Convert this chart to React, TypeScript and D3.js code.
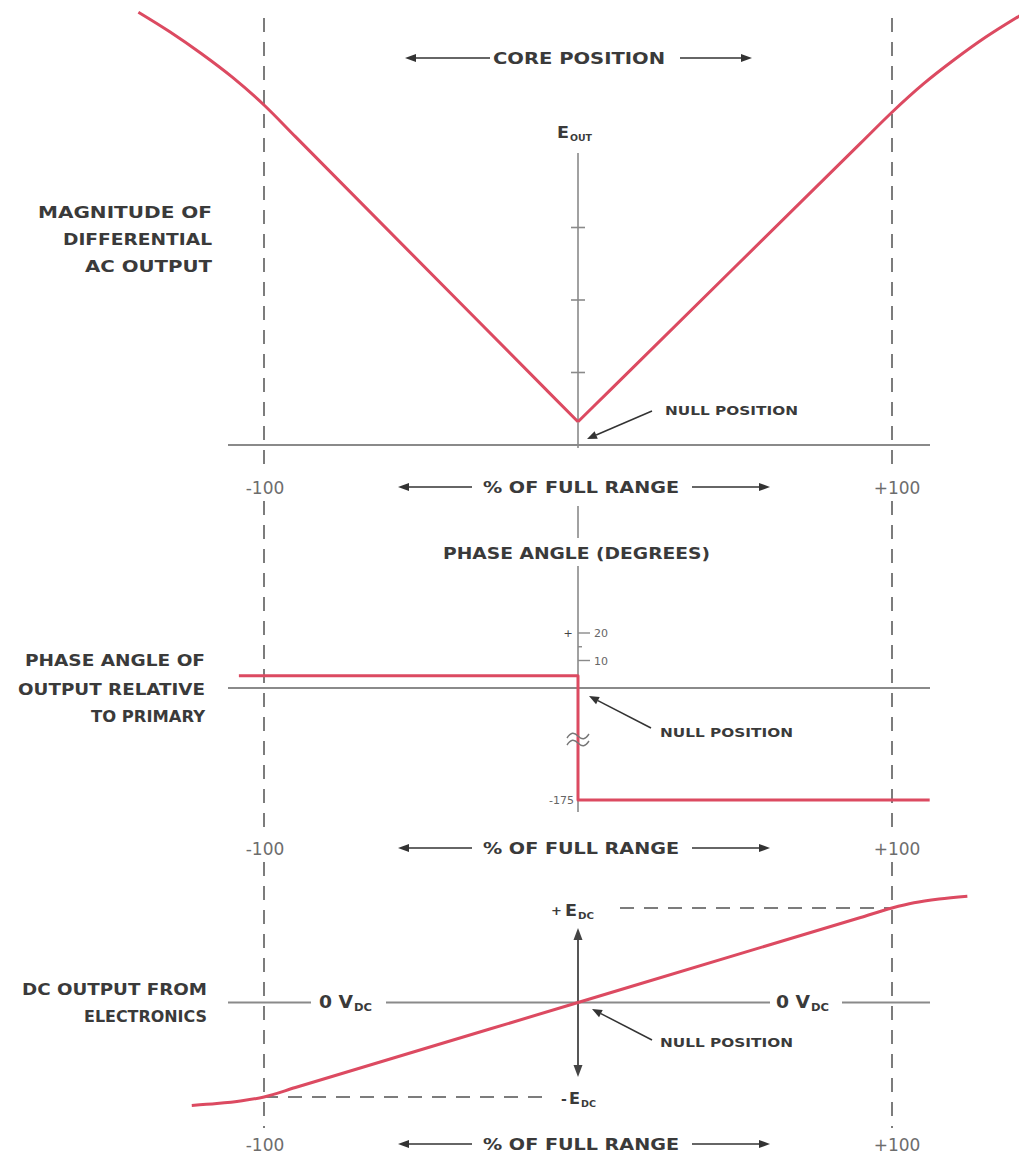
import React from "react";
import * as d3 from "d3";

// Core position, % of full range (shared horizontal axis)
const rangeTicks = [-100, 100];

// Magnitude of differential AC output (axis units; ticks at 1, 2, 3)
const magLeftPct = [-140, -130, -120, -110, -100, -90, -10, 0];
const magLeft = [5.97, 5.7, 5.4, 5.07, 4.69, 4.253, 0.757, 0.32];
const magRightPct = [0, 10, 90, 100, 110, 120, 130, 141];
const magRight = [0.32, 0.747, 4.163, 4.59, 4.98, 5.32, 5.63, 5.93];
const magTicks = [1, 2, 3];

// Phase angle of output relative to primary (degrees)
const phasePct = [-108, 0, 0, 112];
const phaseDeg = [4.5, 4.5, -175, -175];
const phaseTicks = [10, 15, 20];
const phaseTickLabels = ["10", "", "20"];

// DC output from electronics (in units of E_DC)
const dcPct = [-123, -115, -107, -100, -90, 0, 90, 100, 107, 115, 124];
const dcOut = [-1.09, -1.07, -1.04, -1.0, -0.9, 0, 0.9, 1.0, 1.055, 1.095, 1.125];

const W = 1019;
const H = 1157;
const RED = "#dc4a61";
const GRAY = "#8a8a8a";
const INK = "#3a3a3a";
const FONT = "'DejaVu Sans', Arial, sans-serif";

const x = d3.scaleLinear().domain([-100, 100]).range([264, 892]);
const yMag = d3.scaleLinear().domain([0, 4]).range([445, 155]);
const yPhase = d3.scaleLinear().domain([-175, 0, 20]).range([800, 688, 633]);
const yDC = d3.scaleLinear().domain([-1, 1]).range([1097, 908]);

type Pt = [number, number];
const zip = (a: number[], b: number[]): Pt[] => a.map((v, i) => [v, b[i]]);

function Arrow({ x1, y1, x2, y2, len = 11, half = 4, w = 1.6, color = "#333" }: any) {
  const a = Math.atan2(y2 - y1, x2 - x1);
  const bx = x2 - len * Math.cos(a);
  const by = y2 - len * Math.sin(a);
  const px = -Math.sin(a) * half;
  const py = Math.cos(a) * half;
  return (
    <g>
      <line x1={x1} y1={y1} x2={bx} y2={by} stroke={color} strokeWidth={w} />
      <polygon points={`${x2},${y2} ${bx + px},${by + py} ${bx - px},${by - py}`} fill={color} />
    </g>
  );
}

function Label({ x: lx, y, w, text, size = 15, fill = INK, weight = "bold" }: any) {
  return (
    <text
      x={lx}
      y={y}
      fontSize={size}
      fontWeight={weight}
      fill={fill}
      fontFamily={FONT}
      textLength={w}
      lengthAdjust="spacingAndGlyphs"
    >
      {text}
    </text>
  );
}

// Right-aligned multi-line caption
function Caption({ right, lines }: { right: number; lines: [string, number, number][] }) {
  return (
    <g>
      {lines.map(([t, y, w]) => (
        <Label key={t} x={right - w} y={y} w={w} text={t} size={16} />
      ))}
    </g>
  );
}

function RangeRow({ y }: { y: number }) {
  const c = x(0);
  return (
    <g>
      <Arrow x1={c - 106} y1={y - 6} x2={c - 180} y2={y - 6} />
      <Label x={c - 95} y={y} w={196} text="% OF FULL RANGE" size={16} />
      <Arrow x1={c + 114} y1={y - 6} x2={c + 192} y2={y - 6} />
      {rangeTicks.map((t) => (
        <text
          key={t}
          x={x(t) + (t > 0 ? 5 : 1)}
          y={y + 1}
          fontSize={17}
          fill="#6d6d6d"
          fontFamily={FONT}
          textAnchor="middle"
        >
          {t > 0 ? `+${t}` : `-${Math.abs(t)}`}
        </text>
      ))}
    </g>
  );
}

function NullNote({ tx, ty, hx, hy, lx, ly }: any) {
  return (
    <g>
      <Arrow x1={tx} y1={ty} x2={hx} y2={hy} len={10} half={4} w={1.5} />
      <Label x={lx} y={ly} w={133} text="NULL POSITION" size={12} />
    </g>
  );
}

function Sub({ x: sx, y, main, sub, size = 16, subSize = 9, subW, mainW }: any) {
  return (
    <g fontFamily={FONT} fontWeight="bold" fill={INK}>
      <text x={sx} y={y} fontSize={size} textLength={mainW} lengthAdjust="spacingAndGlyphs">
        {main}
      </text>
      <text x={sx + mainW + 1} y={y + 3} fontSize={subSize} textLength={subW} lengthAdjust="spacingAndGlyphs">
        {sub}
      </text>
    </g>
  );
}

export default function App() {
  const x0 = x(0);

  const magLine = d3
    .line<Pt>()
    .x((d) => x(d[0]))
    .y((d) => yMag(d[1]))
    .curve(d3.curveMonotoneX);
  const phaseLine = d3
    .line<Pt>()
    .x((d) => x(d[0]))
    .y((d) => yPhase(d[1]));
  const dcLine = d3
    .line<Pt>()
    .x((d) => x(d[0]))
    .y((d) => yDC(d[1]))
    .curve(d3.curveMonotoneX);

  const dashSegs: [number, number][] = [
    [18, 470],
    [501, 834],
    [862, 1128],
  ];

  const lineStart = 228;
  const lineEnd = 930;

  return (
    <svg
      width={W}
      height={H}
      viewBox={`0 0 ${W} ${H}`}
      style={{ position: "absolute", left: 0, top: 0, background: "#fff" }}
    >
      <rect width={W} height={H} fill="#fff" />

      {/* ±100 % limits */}
      {rangeTicks.map((t) =>
        dashSegs.map(([a, b], i) => (
          <line
            key={`${t}-${i}`}
            x1={x(t)}
            x2={x(t)}
            y1={a}
            y2={b}
            stroke="#7c7c7c"
            strokeWidth={2}
            strokeDasharray="14,10"
          />
        ))
      )}

      {/* ---------- Magnitude panel ---------- */}
      <Arrow x1={490} y1={58} x2={405} y2={58} />
      <Label x={493} y={64} w={172} text="CORE POSITION" size={16} />
      <Arrow x1={680} y1={58} x2={752} y2={58} />

      <line x1={lineStart} x2={lineEnd} y1={yMag(0)} y2={yMag(0)} stroke={GRAY} strokeWidth={2.2} />
      <line x1={x0} x2={x0} y1={153} y2={yMag(0) + 3} stroke={GRAY} strokeWidth={1.6} />
      {magTicks.map((t) => (
        <line key={t} x1={x0 - 7} x2={x0 + 7} y1={yMag(t)} y2={yMag(t)} stroke={GRAY} strokeWidth={1.6} />
      ))}
      <Sub x={557} y={138} main="E" mainW={12} sub="OUT" subW={22} size={16} subSize={8} />

      <path d={magLine(zip(magLeftPct, magLeft)) || ""} fill="none" stroke={RED} strokeWidth={3} />
      <path d={magLine(zip(magRightPct, magRight)) || ""} fill="none" stroke={RED} strokeWidth={3} />

      <NullNote tx={652} ty={411} hx={587} hy={439} lx={665} ly={415} />

      <Caption
        right={212}
        lines={[
          ["MAGNITUDE OF", 218, 174],
          ["DIFFERENTIAL", 245, 149],
          ["AC OUTPUT", 272, 127],
        ]}
      />

      <RangeRow y={493} />

      {/* ---------- Phase panel ---------- */}
      <line x1={x0} x2={x0} y1={506} y2={538} stroke={GRAY} strokeWidth={1.6} />
      <Label x={443} y={559} w={267} text="PHASE ANGLE (DEGREES)" size={16} />
      <line x1={x0} x2={x0} y1={566} y2={812} stroke={GRAY} strokeWidth={1.6} />
      {phaseTicks.map((t, i) => (
        <g key={t}>
          <line
            x1={x0}
            x2={x0 + (phaseTickLabels[i] ? 12 : 4)}
            y1={yPhase(t)}
            y2={yPhase(t)}
            stroke={GRAY}
            strokeWidth={1.4}
          />
          {phaseTickLabels[i] && (
            <text x={x0 + 16} y={yPhase(t) + 4} fontSize={11} fill="#666" fontFamily={FONT}>
              {phaseTickLabels[i]}
            </text>
          )}
        </g>
      ))}
      <text x={x0 - 10} y={yPhase(20) + 4} fontSize={11} fill="#444" fontFamily={FONT} textAnchor="middle">
        +
      </text>
      <text x={x0 - 4} y={yPhase(-175) + 4} fontSize={11} fill="#666" fontFamily={FONT} textAnchor="end">
        -175
      </text>

      <line x1={lineStart} x2={lineEnd} y1={yPhase(0)} y2={yPhase(0)} stroke={GRAY} strokeWidth={2.2} />

      <path d={phaseLine(zip(phasePct, phaseDeg)) || ""} fill="none" stroke={RED} strokeWidth={3} strokeLinejoin="round" />

      {/* axis break */}
      {[736, 743].map((by) => (
        <path
          key={by}
          d={`M ${x0 - 11} ${by + 2} c 4 -6, 7 -6, 11 -2 s 7 4, 11 -2`}
          fill="none"
          stroke="#777"
          strokeWidth={1.4}
        />
      ))}

      <NullNote tx={651} ty={728} hx={589} hy={696} lx={660} ly={737} />

      <Caption
        right={205}
        lines={[
          ["PHASE ANGLE OF", 666, 180],
          ["OUTPUT RELATIVE", 695, 187],
          ["TO PRIMARY", 722, 114],
        ]}
      />

      <RangeRow y={854} />

      {/* ---------- DC output panel ---------- */}
      <line
        x1={620}
        x2={x(100)}
        y1={yDC(1)}
        y2={yDC(1)}
        stroke="#7c7c7c"
        strokeWidth={2}
        strokeDasharray="14,10"
      />
      <line
        x1={x(-100)}
        x2={548}
        y1={yDC(-1)}
        y2={yDC(-1)}
        stroke="#7c7c7c"
        strokeWidth={2}
        strokeDasharray="14,10"
      />
      <text x={551} y={915} fontSize={13} fontWeight="bold" fill={INK} fontFamily={FONT}>
        +
      </text>
      <Sub x={565} y={916} main="E" mainW={12} sub="DC" subW={16} size={16} subSize={9} />
      <text x={561} y={1104} fontSize={14} fontWeight="bold" fill={INK} fontFamily={FONT}>
        -
      </text>
      <Sub x={569} y={1104} main="E" mainW={11} sub="DC" subW={15} size={15} subSize={9} />

      <line x1={lineStart} x2={311} y1={yDC(0)} y2={yDC(0)} stroke={GRAY} strokeWidth={2.2} />
      <line x1={386} x2={770} y1={yDC(0)} y2={yDC(0)} stroke={GRAY} strokeWidth={2.2} />
      <line x1={842} x2={lineEnd} y1={yDC(0)} y2={yDC(0)} stroke={GRAY} strokeWidth={2.2} />
      <Sub x={319} y={1008} main="0 V" mainW={34} sub="DC" subW={18} size={17} subSize={10} />
      <Sub x={776} y={1008} main="0 V" mainW={34} sub="DC" subW={18} size={17} subSize={10} />

      <Arrow x1={x0} y1={yDC(0)} x2={x0} y2={928} len={12} half={4.5} w={1.8} color="#444" />
      <Arrow x1={x0} y1={yDC(0)} x2={x0} y2={1077} len={12} half={4.5} w={1.8} color="#444" />

      <path d={dcLine(zip(dcPct, dcOut)) || ""} fill="none" stroke={RED} strokeWidth={3} />

      <NullNote tx={652} ty={1040} hx={592} hy={1009} lx={660} ly={1047} />

      <Caption
        right={207}
        lines={[
          ["DC OUTPUT FROM", 995, 185],
          ["ELECTRONICS", 1022, 123],
        ]}
      />

      <RangeRow y={1150} />
    </svg>
  );
}
